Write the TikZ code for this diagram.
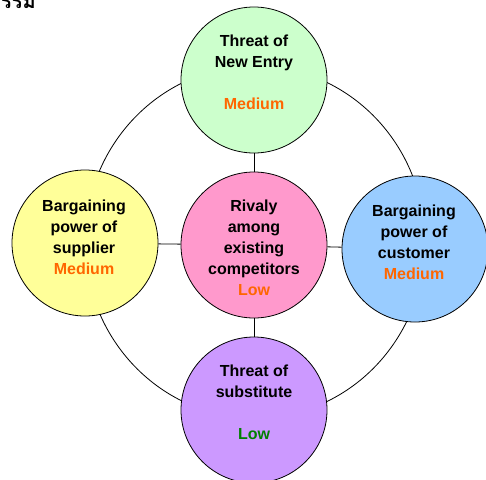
\documentclass[tikz,border=0pt]{standalone}
\usepackage{fontspec}
\setmainfont{Liberation Sans}
\newfontfamily\thaifont[Script=Thai]{Loma}
\definecolor{cgreen}{HTML}{CCFFCC}
\definecolor{cyellow}{HTML}{FFFF99}
\definecolor{cpink}{HTML}{FF99CC}
\definecolor{cblue}{HTML}{99CCFF}
\definecolor{cpurple}{HTML}{CC99FF}
\definecolor{corange}{HTML}{FF6600}
\definecolor{cdgreen}{HTML}{008000}
\begin{document}
\begin{tikzpicture}[x=1pt,y=-1pt,
  bubble/.style={circle,draw=black,line width=0.8pt,minimum size=146pt,inner sep=0pt},
  txt/.style={align=center,inner sep=0pt,font=\fontsize{16}{21}\selectfont\bfseries},
  link/.style={draw=black,line width=0.8pt}]
\useasboundingbox (0,0) rectangle (486,479);
\clip (0,0) rectangle (486,479);
\fill[white] (0,0) rectangle (486,479);
\node[anchor=base west,inner sep=0pt,font=\thaifont\bfseries\fontsize{20}{24}\selectfont] (title) at (1,9) {รรม};
% outer ring
\draw[link] (255,242) ellipse [x radius=170, y radius=176];
% circles
\node[bubble,fill=cgreen] (entry) at (254,80) {};
\node[bubble,fill=cyellow] (supplier) at (85,243) {};
\node[bubble,fill=cpink] (rivalry) at (254,245) {};
\node[bubble,fill=cblue] (customer) at (415,249) {};
\node[bubble,fill=cpurple] (substitute) at (254,410) {};
% spokes
\draw[link] (entry) -- (rivalry);
\draw[link] (supplier) -- (rivalry);
\draw[link] (rivalry) -- (customer);
\draw[link] (rivalry) -- (substitute);
% texts
\node[txt] (entryT) at (254,72.5) {Threat of\\New Entry\\~\\\textcolor{corange}{Medium}};
\node[txt] (supplierT) at (84,237.5) {Bargaining\\power of\\supplier\\\textcolor{corange}{Medium}};
\node[txt] (rivalryT) at (254,248) {Rivaly\\among\\existing\\competitors\\\textcolor{corange}{Low}};
\node[txt] (customerT) at (414,242) {Bargaining\\power of\\customer\\\textcolor{corange}{Medium}};
\node[txt] (substituteT) at (254,402.5) {Threat of\\substitute\\~\\\textcolor{cdgreen}{Low}};
\end{tikzpicture}
\end{document}
